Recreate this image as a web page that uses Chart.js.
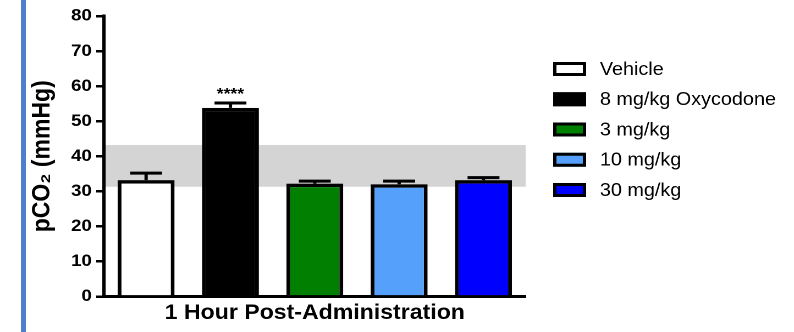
<!DOCTYPE html>
<html>
<head>
<meta charset="utf-8">
<script src="https://cdn.jsdelivr.net/npm/chart.js@4/dist/chart.umd.min.js"></script>
<style>
  html, body { margin: 0; padding: 0; background: #fff; }
  body { width: 794px; height: 332px; position: relative; overflow: hidden; }
  #rule { position: absolute; left: 21px; top: 0; width: 5px; height: 332px; background: #4f7fcb; }
  #wrap { position: absolute; left: 0; top: 0; width: 722px; height: 332px;
          transform: scaleX(1.0997); transform-origin: 0 0; }
</style>
</head>
<body>
<div id="rule"></div>
<div id="wrap"><canvas id="c" width="722" height="332"></canvas></div>
<script>
// Arterial pCO2 one hour after dosing (mean + SEM)
const groups = ['Vehicle', '8 mg/kg Oxycodone', '3 mg/kg', '10 mg/kg', '30 mg/kg'];
const means = [33.2, 53.8, 32.2, 32.0, 33.2];
const sem = [2.0, 1.4, 0.7, 0.9, 0.7];
const stars = ['', '****', '', '', ''];
const yTicks = [0, 10, 20, 30, 40, 50, 60, 70, 80];
const normalRange = [31.3, 43.2];
const xTitle = '1 Hour Post-Administration';
const yTitle = 'pCO\u2082 (mmHg)';

const fills = ['#ffffff', '#000000', '#007f00', '#55a0fa', '#0000ff'];
const FONT = "'Liberation Sans', Arial, sans-serif";

// shaded normal range behind the bars
const bandPlugin = {
  id: 'band',
  beforeDraw(chart) {
    const { ctx, chartArea: a, scales: { y } } = chart;
    const top = y.getPixelForValue(normalRange[1]);
    const bot = y.getPixelForValue(normalRange[0]);
    ctx.save();
    ctx.fillStyle = '#d4d4d4';
    ctx.fillRect(a.left, top, a.right - a.left, bot - top);
    ctx.restore();
  }
};

// SEM whiskers (upper only) and significance stars
const errPlugin = {
  id: 'err',
  afterDatasetsDraw(chart) {
    const { ctx, scales: { y } } = chart;
    ctx.save();
    ctx.strokeStyle = '#000';
    ctx.lineWidth = 3;
    chart.data.datasets.forEach((ds, i) => {
      const bar = chart.getDatasetMeta(i).data[0];
      const y0 = y.getPixelForValue(means[i]);
      const y1 = y.getPixelForValue(means[i] + sem[i]);
      const half = bar.width * 0.28;
      ctx.beginPath();
      ctx.moveTo(bar.x, y0);
      ctx.lineTo(bar.x, y1);
      ctx.moveTo(bar.x - half, y1);
      ctx.lineTo(bar.x + half, y1);
      ctx.stroke();
      if (stars[i]) {
        ctx.fillStyle = '#000';
        ctx.font = 'bold 16px ' + FONT;
        ctx.textAlign = 'center';
        ctx.textBaseline = 'alphabetic';
        ctx.fillText(stars[i], bar.x, y1 - 4);
      }
    });
    ctx.restore();
  }
};

// legend column to the right of the plot
const legendPlugin = {
  id: 'sideLegend',
  afterDraw(chart) {
    const { ctx, chartArea: a } = chart;
    ctx.save();
    ctx.font = '18px ' + FONT;
    ctx.textBaseline = 'middle';
    ctx.textAlign = 'left';
    chart.data.datasets.forEach((ds, i) => {
      const cy = a.top + 53 + i * 30.25;
      const bx = a.right + 25;
      ctx.fillStyle = ds.backgroundColor;
      ctx.fillRect(bx, cy - 7, 30, 14);
      ctx.strokeStyle = '#000';
      ctx.lineWidth = 3;
      ctx.strokeRect(bx + 1.5, cy - 5.5, 27, 11);
      ctx.fillStyle = '#000';
      ctx.fillText(ds.label, a.right + 67.5, cy + 1);
    });
    ctx.restore();
  }
};

new Chart(document.getElementById('c'), {
  type: 'bar',
  data: {
    labels: [''],
    datasets: groups.map((g, i) => ({
      label: g,
      data: [means[i]],
      backgroundColor: fills[i],
      borderColor: '#000',
      borderWidth: 3.5,
      borderSkipped: 'bottom',
      categoryPercentage: 1,
      barPercentage: 0.675
    }))
  },
  options: {
    responsive: false,
    animation: false,
    devicePixelRatio: 2,
    layout: { padding: { top: 16, right: 244, bottom: 0, left: 0 } },
    plugins: { legend: { display: false }, tooltip: { enabled: false } },
    scales: {
      x: {
        grid: { display: false },
        ticks: { display: false },
        border: { display: true, color: '#000', width: 3 },
        title: {
          display: true, text: xTitle, color: '#000',
          font: { family: FONT, size: 21, weight: 'bold' },
          padding: { top: 0, bottom: 6 }
        },
        afterFit(s) { s.height = 35.5; }
      },
      y: {
        min: 0, max: 80,
        afterBuildTicks(s) { s.ticks = yTicks.map(v => ({ value: v })); },
        grid: { drawOnChartArea: false, drawTicks: true, tickLength: 7, color: '#000', lineWidth: 2.5 },
        border: { display: true, color: '#000', width: 3 },
        ticks: {
          color: '#000', padding: 4,
          font: { family: FONT, size: 17, weight: 'bold' }
        },
        title: {
          display: true, text: yTitle, color: '#000',
          font: { family: FONT, size: 23, weight: 'bold' },
          padding: { top: 25, bottom: 0 }
        },
        afterFit(s) { s.width = 94.5; }
      }
    }
  },
  plugins: [bandPlugin, errPlugin, legendPlugin]
});
</script>
</body>
</html>
